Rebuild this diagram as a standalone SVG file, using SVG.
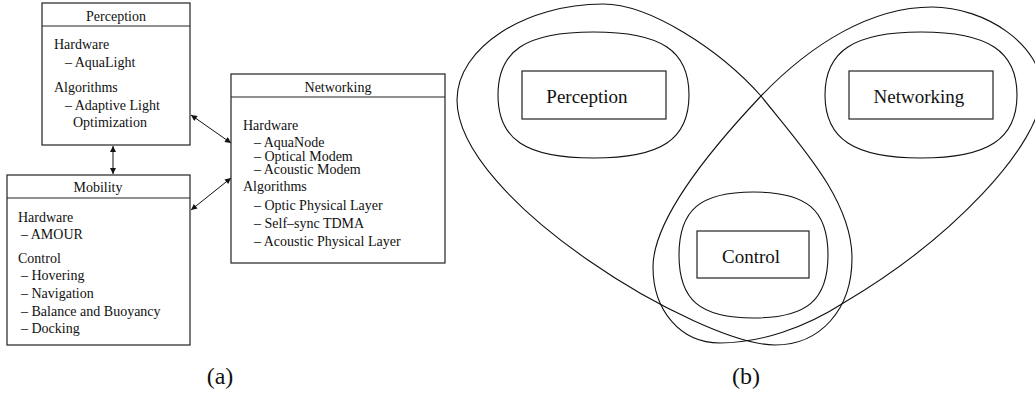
<svg xmlns="http://www.w3.org/2000/svg" width="1035" height="396" viewBox="0 0 1035 396">
<defs>
<style>
.box{fill:#fff;stroke:#222;stroke-width:1.2}
.sep{stroke:#222;stroke-width:1.2}
.t{font-family:"Liberation Serif","Times New Roman",serif;font-size:14px;fill:#111}
.c{text-anchor:middle}
.big{font-family:"Liberation Serif","Times New Roman",serif;font-size:19px;fill:#111;text-anchor:middle}
.lbl{font-family:"Liberation Serif","Times New Roman",serif;font-size:24px;fill:#111;text-anchor:middle}
.loop{fill:none;stroke:#111;stroke-width:1.1}
.conn{stroke:#111;stroke-width:1;fill:none;marker-start:url(#ah);marker-end:url(#ah)}
</style>
<marker id="ah" viewBox="0 0 10 10" refX="10" refY="5" markerWidth="9" markerHeight="6" markerUnits="userSpaceOnUse" orient="auto-start-reverse">
<path d="M0,0 L10,5 L0,10 Z" fill="#111"/>
</marker>
</defs>
<rect width="1035" height="396" fill="#fff"/>

<g id="a-perception">
<rect class="box" x="42" y="3" width="148" height="142"/>
<line class="sep" x1="42" y1="26" x2="190" y2="26"/>
<text class="t c" x="116" y="21">Perception</text>
<text class="t" x="54" y="49">Hardware</text>
<text class="t" x="65" y="67">– AquaLight</text>
<text class="t" x="54" y="92">Algorithms</text>
<text class="t" x="65" y="110">– Adaptive Light</text>
<text class="t" x="73" y="127">Optimization</text>
</g>

<g id="a-mobility">
<rect class="box" x="7" y="175" width="183" height="170"/>
<line class="sep" x1="7" y1="198" x2="190" y2="198"/>
<text class="t c" x="98" y="192">Mobility</text>
<text class="t" x="18" y="222">Hardware</text>
<text class="t" x="21" y="239">– AMOUR</text>
<text class="t" x="18" y="263">Control</text>
<text class="t" x="21" y="280">– Hovering</text>
<text class="t" x="21" y="298">– Navigation</text>
<text class="t" x="21" y="316">– Balance and Buoyancy</text>
<text class="t" x="21" y="333">– Docking</text>
</g>

<g id="a-networking">
<rect class="box" x="231" y="74" width="214" height="189"/>
<line class="sep" x1="231" y1="97" x2="445" y2="97"/>
<text class="t c" x="338" y="92">Networking</text>
<text class="t" x="243" y="130">Hardware</text>
<text class="t" x="254" y="147">– AquaNode</text>
<text class="t" x="254" y="161">– Optical Modem</text>
<text class="t" x="254" y="174">– Acoustic Modem</text>
<text class="t" x="243" y="191">Algorithms</text>
<text class="t" x="254" y="210">– Optic Physical Layer</text>
<text class="t" x="254" y="228">– Self–sync TDMA</text>
<text class="t" x="254" y="246">– Acoustic Physical Layer</text>
</g>

<g id="connectors">
<line class="conn" x1="191" y1="115" x2="231" y2="143"/>
<line class="conn" x1="191" y1="210" x2="231" y2="178"/>
<line class="conn" x1="113" y1="146" x2="113" y2="174"/>
</g>

<g id="b-loops">
<path class="loop" d="M603,4 C650,4 720,50 761,96 C800,145 852,200 852,258 C852,310 820,345 775,345 C700,345 457,200 457,100 C457,48 525,4 603,4 Z"/>
<path class="loop" d="M932,7 C985,7 1042,45 1042,90 C1042,145 950,240 845,302 C805,328 760,343 720,343 C680,343 653,310 653,267 C653,220 710,150 761,96 C810,45 870,7 932,7 Z"/>
</g>

<g id="b-perception">
<path class="loop" d="M498,95 C498,51 525,32 593.5,32 C662,32 689,51 689,95 C689,139 662,158 593.5,158 C525,158 498,139 498,95 Z"/>
<rect class="box" x="522" y="71" width="144" height="48"/>
<text class="big" x="587" y="103">Perception</text>
</g>

<g id="b-networking">
<path class="loop" d="M825,95 C825,51 854,32 921,32 C988,32 1017,51 1017,95 C1017,139 988,158 921,158 C854,158 825,139 825,95 Z"/>
<rect class="box" x="849" y="71" width="144" height="48"/>
<text class="big" x="919" y="103">Networking</text>
</g>

<g id="b-control">
<path class="loop" d="M679,255 C679,210 700,192 753.5,192 C807,192 828,210 828,255 C828,300 807,318 753.5,318 C700,318 679,300 679,255 Z"/>
<rect class="box" x="697" y="231" width="112" height="47"/>
<text class="big" x="751" y="263">Control</text>
</g>

<text class="lbl" x="220" y="384">(a)</text>
<text class="lbl" x="746" y="384">(b)</text>
</svg>
